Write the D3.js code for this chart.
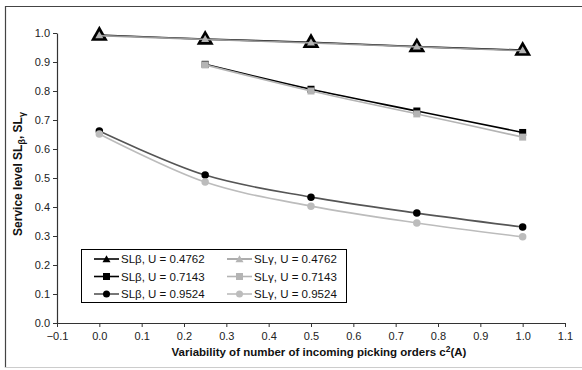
<!DOCTYPE html>
<html>
<head>
<meta charset="utf-8">
<script src="https://cdn.jsdelivr.net/npm/d3@7"></script>
<style>
  html, body { margin: 0; padding: 0; background: #fff; }
  svg { display: block; font-family: "Liberation Sans", Arial, sans-serif; }
</style>
</head>
<body>
<svg id="chart" width="582" height="370"></svg>
<script>
// Variability of incoming picking orders c²(A)
const xs = [0, 0.25, 0.5, 0.75, 1.0];

// Service levels per utilisation U (beta and gamma)
const betaU4762  = [0.993, 0.979, 0.968, 0.953, 0.941];
const gammaU4762 = [0.991, 0.978, 0.966, 0.952, 0.939];
const betaU7143  = [null, 0.892, 0.806, 0.731, 0.657];
const gammaU7143 = [null, 0.890, 0.800, 0.721, 0.641];
const betaU9524  = [0.662, 0.510, 0.434, 0.379, 0.331];
const gammaU9524 = [0.652, 0.486, 0.403, 0.345, 0.297];

const xTicks = [-0.1, 0, 0.1, 0.2, 0.3, 0.4, 0.5, 0.6, 0.7, 0.8, 0.9, 1.0, 1.1];
const yTicks = [0, 0.1, 0.2, 0.3, 0.4, 0.5, 0.6, 0.7, 0.8, 0.9, 1.0];

const series = [
  { label: "SLβ, U = 0.4762", values: betaU4762,  line: "#000", fill: "#000", shape: "tri", size: 17 },
  { label: "SLβ, U = 0.7143", values: betaU7143,  line: "#000", fill: "#000", shape: "sq",  size: 7 },
  { label: "SLβ, U = 0.9524", values: betaU9524,  line: "#555", fill: "#000", shape: "dot", size: 7.5 },
  { label: "SLγ, U = 0.4762", values: gammaU4762, line: "#999", fill: "#b4b4b4", shape: "tri", size: 8 },
  { label: "SLγ, U = 0.7143", values: gammaU7143, line: "#b4b4b4", fill: "#b4b4b4", shape: "sq",  size: 7 },
  { label: "SLγ, U = 0.9524", values: gammaU9524, line: "#bcbcbc", fill: "#bcbcbc", shape: "dot", size: 7.5 }
];

const svg = d3.select("#chart");

// outer frame
svg.append("path").attr("d", "M5.5,368 V6.5 H582").attr("fill", "none").attr("stroke", "#444").attr("stroke-width", 1.2);
svg.append("line").attr("x1", 5).attr("x2", 582).attr("y1", 367.5).attr("y2", 367.5).attr("stroke", "#ccc");

const x = d3.scaleLinear().domain([-0.1, 1.1]).range([57, 565]);
const y = d3.scaleLinear().domain([0, 1]).range([323, 33]);

const yAxis = svg.append("g").attr("transform", `translate(${x(-0.1)},0)`)
  .call(d3.axisLeft(y).tickValues(yTicks).tickFormat(d3.format(".1f")).tickSize(4).tickSizeOuter(0));
const xAxis = svg.append("g").attr("transform", `translate(0,${y(0)})`)
  .call(d3.axisBottom(x).tickValues(xTicks).tickFormat(d3.format(".1f")).tickSize(4).tickSizeOuter(0));

[xAxis, yAxis].forEach(g => {
  g.select(".domain").attr("stroke", "#333").attr("stroke-width", 1.2);
  g.selectAll(".tick line").attr("stroke", "#333");
  g.selectAll(".tick text").attr("fill", "#222").style("font-size", "11px")
    .style("font-family", '"Liberation Sans", Arial, sans-serif');
});
yAxis.selectAll(".tick text").attr("x", -7);
xAxis.selectAll(".tick text").attr("y", 9);

const line = d3.line()
  .defined(d => d[1] != null)
  .x(d => x(d[0])).y(d => y(d[1]))
  .curve(d3.curveCatmullRom.alpha(0.5));

function marker(g, s, cx, cy, k = 1) {
  const r = s.size * k;
  if (s.shape === "tri") {
    const h = r * 0.87;
    g.append("path")
      .attr("d", `M${cx},${cy - h * 0.62} L${cx + r / 2},${cy + h * 0.38} L${cx - r / 2},${cy + h * 0.38} Z`)
      .attr("fill", s.fill);
  } else if (s.shape === "sq") {
    g.append("rect").attr("x", cx - r / 2).attr("y", cy - r / 2).attr("width", r).attr("height", r).attr("fill", s.fill);
  } else {
    g.append("circle").attr("cx", cx).attr("cy", cy).attr("r", r / 2).attr("fill", s.fill);
  }
}

const plot = svg.append("g");
series.forEach(s => {
  const pts = xs.map((v, i) => [v, s.values[i]]);
  plot.append("path").datum(pts).attr("d", line)
    .attr("fill", "none").attr("stroke", s.line).attr("stroke-width", 1.6);
  pts.filter(p => p[1] != null).forEach(p => marker(plot, s, x(p[0]), y(p[1])));
});

// legend
const lg = svg.append("g");
lg.append("rect").attr("x", 81.5).attr("y", 249.5).attr("width", 265).attr("height", 53)
  .attr("fill", "#fff").attr("stroke", "#000").attr("stroke-width", 1);
series.forEach((s, i) => {
  const col = Math.floor(i / 3), row = i % 3;
  const x0 = col === 0 ? 94 : 227;
  const cy = 259 + row * 17.5;
  lg.append("line").attr("x1", x0).attr("x2", x0 + 25).attr("y1", cy).attr("y2", cy)
    .attr("stroke", s.line).attr("stroke-width", 1.6);
  const ms = Object.assign({}, s, { size: s.shape === "tri" ? 8 : 7 });
  marker(lg, ms, x0 + 12.5, cy + (s.shape === "tri" ? 0.5 : 0));
  lg.append("text").attr("x", x0 + 27).attr("y", cy).attr("dy", "0.36em")
    .style("font-size", "11.5px").attr("fill", "#111").text(s.label);
});

// axis titles
svg.append("text").attr("x", 319).attr("y", 356).attr("text-anchor", "middle")
  .style("font-size", "11.5px").style("font-weight", "bold").attr("fill", "#111")
  .html('Variability of number of incoming picking orders c<tspan dy="-4" font-size="8.5px">2</tspan><tspan dy="4">(A)</tspan>');

svg.append("text").attr("transform", "translate(22,174) rotate(-90)").attr("text-anchor", "middle")
  .style("font-size", "12px").style("font-weight", "bold").attr("fill", "#111")
  .html('Service level SL<tspan dy="3" font-size="9px">β</tspan><tspan dy="-3">, SL</tspan><tspan dy="3" font-size="9px">γ</tspan>');
</script>
</body>
</html>
